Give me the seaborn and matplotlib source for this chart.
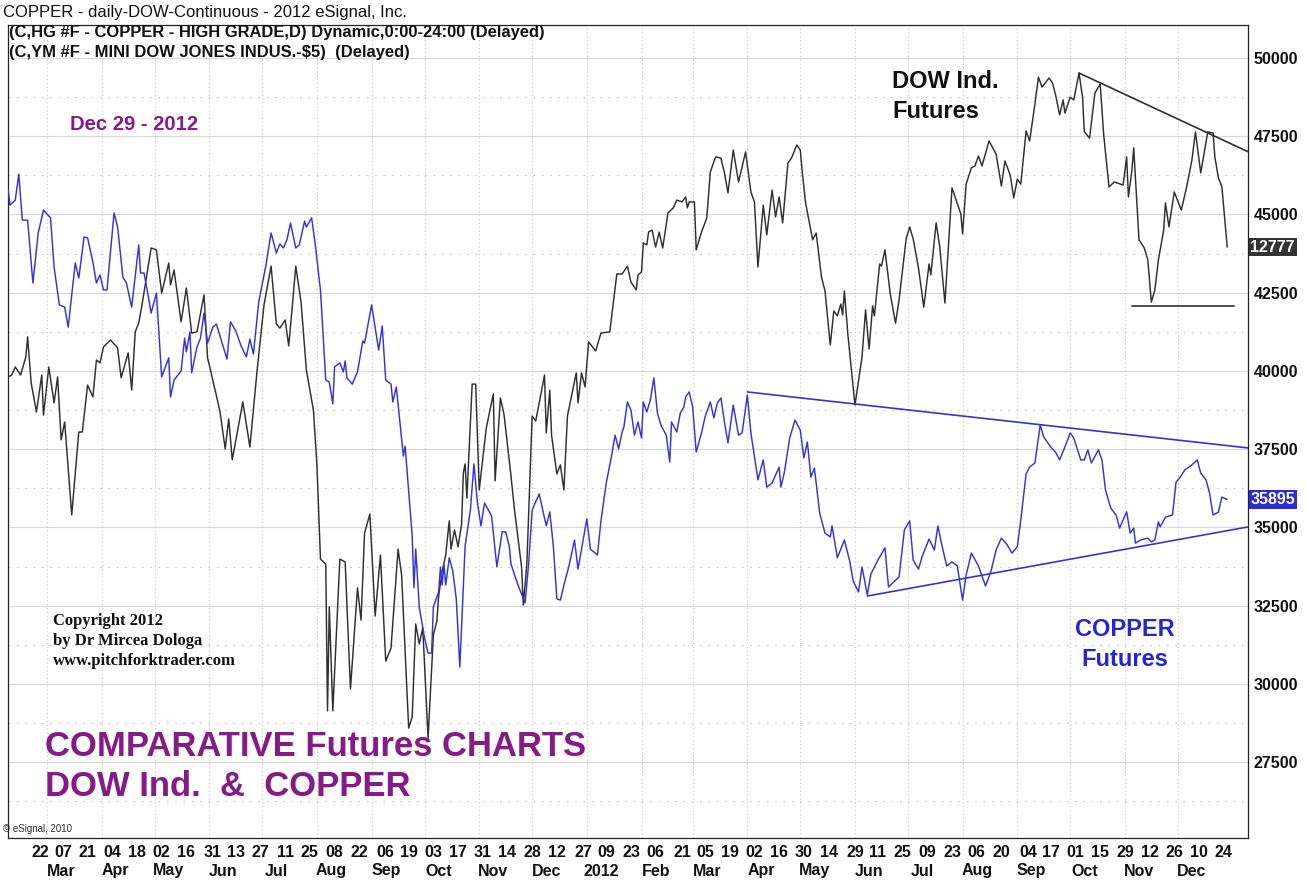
import matplotlib
matplotlib.use("Agg")
import matplotlib.pyplot as plt
import matplotlib.transforms as mtransforms
import matplotlib.dates as mdates
import seaborn as sns
import pandas as pd

# ---------------- data ----------------
copper_dates = [
    "2011-02-04", "2011-02-05", "2011-02-08", "2011-02-10", "2011-02-12", "2011-02-15", "2011-02-18", "2011-02-21",
    "2011-02-24", "2011-02-28", "2011-03-02", "2011-03-05", "2011-03-08", "2011-03-10", "2011-03-14", "2011-03-16",
    "2011-03-19", "2011-03-21", "2011-03-24", "2011-03-26", "2011-03-28", "2011-03-30", "2011-04-01", "2011-04-05",
    "2011-04-07", "2011-04-10", "2011-04-12", "2011-04-15", "2011-04-19", "2011-04-20", "2011-04-22", "2011-04-24",
    "2011-04-26", "2011-04-29", "2011-05-02", "2011-05-06", "2011-05-07", "2011-05-09", "2011-05-13", "2011-05-15",
    "2011-05-16", "2011-05-18", "2011-05-19", "2011-05-22", "2011-05-24", "2011-05-26", "2011-05-28", "2011-05-31",
    "2011-06-02", "2011-06-08", "2011-06-10", "2011-06-13", "2011-06-16", "2011-06-19", "2011-06-21", "2011-06-23",
    "2011-06-26", "2011-06-29", "2011-06-30", "2011-07-03", "2011-07-06", "2011-07-08", "2011-07-10", "2011-07-12",
    "2011-07-14", "2011-07-17", "2011-07-19", "2011-07-22", "2011-07-23", "2011-07-26", "2011-07-28", "2011-07-31",
    "2011-08-03", "2011-08-05", "2011-08-07", "2011-08-08", "2011-08-11", "2011-08-13", "2011-08-14", "2011-08-15",
    "2011-08-18", "2011-08-21", "2011-08-24", "2011-08-25", "2011-08-29", "2011-09-02", "2011-09-04", "2011-09-06",
    "2011-09-09", "2011-09-10", "2011-09-12", "2011-09-16", "2011-09-17", "2011-09-21", "2011-09-22", "2011-09-23",
    "2011-09-25", "2011-09-28", "2011-09-30", "2011-10-02", "2011-10-03", "2011-10-06", "2011-10-07", "2011-10-08",
    "2011-10-09", "2011-10-10", "2011-10-12", "2011-10-14", "2011-10-16", "2011-10-18", "2011-10-21", "2011-10-24",
    "2011-10-26", "2011-10-28", "2011-10-30", "2011-11-01", "2011-11-05", "2011-11-08", "2011-11-11", "2011-11-13",
    "2011-11-15", "2011-11-16", "2011-11-20", "2011-11-24", "2011-11-26", "2011-11-28", "2011-12-02", "2011-12-06",
    "2011-12-08", "2011-12-10", "2011-12-12", "2011-12-14", "2011-12-16", "2011-12-19", "2011-12-22", "2011-12-24",
    "2011-12-29", "2011-12-31", "2012-01-04", "2012-01-06", "2012-01-09", "2012-01-12", "2012-01-14", "2012-01-16",
    "2012-01-18", "2012-01-19", "2012-01-21", "2012-01-23", "2012-01-25", "2012-01-27", "2012-01-29", "2012-01-30",
    "2012-02-01", "2012-02-03", "2012-02-05", "2012-02-07", "2012-02-09", "2012-02-12", "2012-02-14", "2012-02-15",
    "2012-02-18", "2012-02-20", "2012-02-22", "2012-02-23", "2012-02-25", "2012-02-27", "2012-02-29", "2012-03-03",
    "2012-03-05", "2012-03-08", "2012-03-10", "2012-03-12", "2012-03-14", "2012-03-16", "2012-03-18", "2012-03-21",
    "2012-03-24", "2012-03-26", "2012-03-29", "2012-03-31", "2012-04-04", "2012-04-07", "2012-04-09", "2012-04-12",
    "2012-04-16", "2012-04-17", "2012-04-19", "2012-04-22", "2012-04-25", "2012-04-28", "2012-04-30", "2012-05-02",
    "2012-05-04", "2012-05-06", "2012-05-09", "2012-05-12", "2012-05-15", "2012-05-16", "2012-05-19", "2012-05-23",
    "2012-05-26", "2012-05-28", "2012-05-31", "2012-06-02", "2012-06-05", "2012-06-07", "2012-06-11", "2012-06-15",
    "2012-06-17", "2012-06-23", "2012-06-26", "2012-06-29", "2012-07-01", "2012-07-04", "2012-07-06", "2012-07-10",
    "2012-07-13", "2012-07-15", "2012-07-17", "2012-07-20", "2012-07-23", "2012-07-26", "2012-07-29", "2012-07-31",
    "2012-08-03", "2012-08-07", "2012-08-11", "2012-08-14", "2012-08-17", "2012-08-20", "2012-08-23", "2012-08-26",
    "2012-08-29", "2012-08-31", "2012-09-03", "2012-09-05", "2012-09-08", "2012-09-11", "2012-09-13", "2012-09-17",
    "2012-09-20", "2012-09-22", "2012-09-25", "2012-09-28", "2012-09-30", "2012-10-04", "2012-10-06", "2012-10-08",
    "2012-10-10", "2012-10-14", "2012-10-16", "2012-10-18", "2012-10-21", "2012-10-24", "2012-10-26", "2012-10-28",
    "2012-10-30", "2012-11-01", "2012-11-03", "2012-11-04", "2012-11-07", "2012-11-11", "2012-11-13", "2012-11-15",
    "2012-11-17", "2012-11-18", "2012-11-21", "2012-11-25", "2012-11-27", "2012-11-29", "2012-12-02", "2012-12-06",
    "2012-12-09", "2012-12-11", "2012-12-14", "2012-12-16", "2012-12-18", "2012-12-21", "2012-12-23", "2012-12-26",
]
copper_values = [
    45780, 45300, 45460, 46290, 44820, 44820, 42810, 44410,
    45140, 44890, 43320, 42110, 42040, 41400, 43450, 42970,
    44280, 44250, 43480, 42810, 43070, 42590, 42590, 45050,
    44600, 43000, 42810, 42040, 44030, 43130, 43130, 42520,
    41850, 42490, 39810, 40420, 39170, 39710, 40000, 41050,
    40610, 41250, 39940, 40770, 41050, 41850, 40890, 41400,
    41500, 40380, 41570, 41280, 40800, 40450, 41020, 40540,
    42200, 43070, 43350, 44410, 43770, 44060, 43930, 44190,
    44730, 43930, 44030, 44790, 44600, 44890, 44060, 42590,
    39710, 39650, 38950, 40130, 40260, 39970, 40320, 39780,
    39580, 39970, 40960, 40890, 42110, 40670, 41440, 39710,
    39580, 39010, 39490, 37280, 37600, 34730, 33070, 34310,
    32460, 31470, 30990, 30990, 32460, 32940, 33740, 33160,
    33830, 33160, 34030, 33610, 32720, 30540, 34410, 35560,
    37030, 35780, 35050, 35780, 35370, 33740, 34860, 34860,
    34410, 33830, 33160, 32590, 33830, 35560, 36070, 35050,
    35500, 34410, 32720, 32680, 33160, 33800, 34600, 33670,
    35270, 34310, 34120, 35210, 36420, 37280, 37950, 37510,
    38050, 38210, 39010, 38750, 37950, 38370, 37860, 39010,
    38690, 39070, 39780, 38660, 38270, 37950, 37090, 38370,
    38050, 38660, 38850, 39170, 39330, 38850, 37410, 38020,
    38530, 39010, 38500, 38980, 39140, 38370, 37700, 38910,
    37950, 38020, 39230, 38020, 36520, 37160, 36290, 36420,
    36930, 36290, 36770, 37860, 38430, 38110, 37220, 37730,
    36610, 36900, 35460, 34820, 34700, 35050, 34030, 34600,
    33930, 33290, 32940, 33740, 32840, 33510, 33960, 34350,
    33100, 33420, 34920, 35210, 33960, 33670, 34060, 34630,
    34280, 35050, 34500, 33770, 33900, 33770, 32680, 33480,
    34180, 33770, 33130, 33580, 34280, 34660, 34470, 34180,
    34380, 35240, 36710, 36930, 37060, 38270, 37890, 37570,
    37380, 37160, 37570, 38020, 37860, 37160, 37160, 37480,
    37060, 37480, 37160, 36200, 35620, 35400, 34980, 35240,
    35500, 34820, 34980, 34500, 34600, 34660, 34540, 34600,
    35180, 35020, 35330, 35400, 36450, 36580, 36840, 37000,
    37160, 36740, 36520, 36100, 35400, 35490, 35970, 35895,
]

dow_dates = [
    "2011-02-04", "2011-02-06", "2011-02-08", "2011-02-11", "2011-02-14", "2011-02-15", "2011-02-17", "2011-02-20",
    "2011-02-23", "2011-02-24", "2011-02-27", "2011-03-02", "2011-03-04", "2011-03-06", "2011-03-08", "2011-03-12",
    "2011-03-16", "2011-03-18", "2011-03-21", "2011-03-24", "2011-03-26", "2011-03-28", "2011-03-30", "2011-04-03",
    "2011-04-07", "2011-04-09", "2011-04-13", "2011-04-15", "2011-04-17", "2011-04-19", "2011-04-21", "2011-04-26",
    "2011-04-29", "2011-05-02", "2011-05-06", "2011-05-07", "2011-05-09", "2011-05-13", "2011-05-16", "2011-05-19",
    "2011-05-22", "2011-05-26", "2011-05-28", "2011-05-29", "2011-06-04", "2011-06-07", "2011-06-09", "2011-06-11",
    "2011-06-17", "2011-06-21", "2011-06-25", "2011-06-29", "2011-07-03", "2011-07-06", "2011-07-08", "2011-07-11",
    "2011-07-13", "2011-07-15", "2011-07-17", "2011-07-20", "2011-07-23", "2011-07-27", "2011-07-29", "2011-07-31",
    "2011-08-03", "2011-08-04", "2011-08-05", "2011-08-07", "2011-08-11", "2011-08-14", "2011-08-17", "2011-08-21",
    "2011-08-23", "2011-08-25", "2011-08-28", "2011-08-31", "2011-09-03", "2011-09-06", "2011-09-09", "2011-09-13",
    "2011-09-15", "2011-09-19", "2011-09-21", "2011-09-23", "2011-09-25", "2011-09-27", "2011-09-30", "2011-10-03",
    "2011-10-05", "2011-10-06", "2011-10-08", "2011-10-10", "2011-10-12", "2011-10-13", "2011-10-15", "2011-10-17",
    "2011-10-19", "2011-10-20", "2011-10-21", "2011-10-22", "2011-10-25", "2011-10-27", "2011-10-29", "2011-11-02",
    "2011-11-06", "2011-11-07", "2011-11-10", "2011-11-12", "2011-11-16", "2011-11-18", "2011-11-22", "2011-11-23",
    "2011-11-25", "2011-11-28", "2011-11-30", "2011-12-02", "2011-12-05", "2011-12-06", "2011-12-08", "2011-12-09",
    "2011-12-12", "2011-12-14", "2011-12-16", "2011-12-18", "2011-12-23", "2011-12-24", "2011-12-26", "2011-12-28",
    "2011-12-30", "2012-01-03", "2012-01-06", "2012-01-11", "2012-01-15", "2012-01-18", "2012-01-21", "2012-01-23",
    "2012-01-26", "2012-01-27", "2012-01-29", "2012-01-30", "2012-02-01", "2012-02-02", "2012-02-04", "2012-02-06",
    "2012-02-08", "2012-02-10", "2012-02-13", "2012-02-16", "2012-02-18", "2012-02-21", "2012-02-23", "2012-02-24",
    "2012-02-25", "2012-02-28", "2012-02-29", "2012-03-03", "2012-03-06", "2012-03-08", "2012-03-11", "2012-03-14",
    "2012-03-16", "2012-03-18", "2012-03-21", "2012-03-24", "2012-03-28", "2012-03-31", "2012-04-02", "2012-04-04",
    "2012-04-07", "2012-04-09", "2012-04-12", "2012-04-14", "2012-04-16", "2012-04-18", "2012-04-21", "2012-04-23",
    "2012-04-26", "2012-04-28", "2012-04-29", "2012-05-01", "2012-05-05", "2012-05-07", "2012-05-10", "2012-05-12",
    "2012-05-15", "2012-05-17", "2012-05-19", "2012-05-21", "2012-05-22", "2012-05-23", "2012-05-25", "2012-05-29",
    "2012-06-02", "2012-06-04", "2012-06-06", "2012-06-08", "2012-06-09", "2012-06-12", "2012-06-13", "2012-06-15",
    "2012-06-18", "2012-06-21", "2012-06-23", "2012-06-27", "2012-06-29", "2012-07-01", "2012-07-04", "2012-07-07",
    "2012-07-10", "2012-07-11", "2012-07-14", "2012-07-16", "2012-07-19", "2012-07-23", "2012-07-28", "2012-07-29",
    "2012-07-31", "2012-08-03", "2012-08-05", "2012-08-07", "2012-08-09", "2012-08-13", "2012-08-17", "2012-08-20",
    "2012-08-22", "2012-08-25", "2012-08-27", "2012-08-29", "2012-08-31", "2012-09-03", "2012-09-05", "2012-09-08",
    "2012-09-10", "2012-09-12", "2012-09-16", "2012-09-18", "2012-09-20", "2012-09-22", "2012-09-24", "2012-09-25",
    "2012-09-28", "2012-09-30", "2012-10-03", "2012-10-05", "2012-10-06", "2012-10-09", "2012-10-12", "2012-10-15",
    "2012-10-17", "2012-10-20", "2012-10-23", "2012-10-28", "2012-10-30", "2012-10-31", "2012-11-02", "2012-11-03",
    "2012-11-06", "2012-11-09", "2012-11-11", "2012-11-13", "2012-11-15", "2012-11-17", "2012-11-20", "2012-11-21",
    "2012-11-23", "2012-11-26", "2012-11-30", "2012-12-03", "2012-12-06", "2012-12-08", "2012-12-11", "2012-12-15",
    "2012-12-18", "2012-12-19", "2012-12-21", "2012-12-23", "2012-12-24", "2012-12-26",
]
dow_values = [
    39810, 39870, 40130, 39870, 40450, 41090, 39620, 38690,
    39870, 38590, 40130, 38980, 39810, 37800, 38370, 35400,
    38050, 38050, 39550, 39170, 40350, 40260, 40770, 40990,
    40740, 39780, 40580, 39390, 41250, 41530, 42170, 43930,
    43870, 42490, 43450, 42750, 43230, 41570, 42650, 41210,
    41250, 42430, 40420, 40190, 38720, 37510, 38470, 37160,
    39010, 37570, 39970, 42110, 43350, 41500, 41370, 41630,
    40800, 42040, 43350, 42200, 40030, 38750, 37000, 33990,
    33830, 29140, 32460, 29140, 33990, 33900, 29840, 33070,
    32040, 34820, 35430, 32170, 34120, 30730, 31150, 34310,
    33480, 28590, 28950, 31920, 31280, 31790, 28270, 31560,
    32010, 32810, 33610, 34120, 35210, 34310, 34920, 34380,
    35110, 36740, 37030, 35940, 39580, 39580, 36200, 38180,
    39270, 36490, 39140, 38630, 36650, 35560, 33740, 32520,
    33830, 38560, 38400, 38980, 39870, 38020, 39390, 37950,
    36710, 37000, 36200, 38560, 39940, 38980, 39940, 39490,
    40930, 40640, 41210, 41250, 43100, 43100, 43350, 42840,
    42590, 43070, 43160, 44090, 44030, 44440, 44500, 43960,
    44440, 43930, 45050, 45210, 45460, 45400, 45560, 45210,
    45400, 45400, 43870, 44440, 44890, 46360, 46840, 46800,
    46330, 45690, 47060, 46040, 47000, 45720, 45400, 43320,
    45300, 44350, 45780, 44920, 45560, 44730, 46650, 46800,
    47220, 47060, 46420, 45370, 44190, 44410, 43000, 42560,
    40830, 41920, 41760, 42140, 41790, 42560, 41150, 38910,
    40450, 41950, 40700, 42080, 41760, 43420, 43350, 43870,
    42460, 41530, 42270, 44220, 44600, 44220, 43290, 42040,
    43420, 43070, 44730, 43990, 42170, 45850, 45020, 44380,
    45970, 46490, 46550, 46870, 46550, 47350, 46930, 45910,
    46710, 46260, 45530, 46130, 45970, 47670, 47350, 48530,
    49390, 49070, 49360, 49200, 48750, 48180, 48660, 48240,
    48750, 48660, 49520, 48750, 47640, 47440, 48880, 49170,
    47540, 45880, 46040, 45940, 46840, 45560, 46420, 47130,
    44190, 43930, 43550, 42200, 42590, 43550, 44500, 45370,
    44600, 45720, 45140, 45880, 46740, 47640, 46330, 47640,
    47600, 46840, 46170, 45880, 45240, 43960,
]

# hand-drawn trend lines (start / end points)
dow_resistance_dates = ["2012-10-03", "2013-01-07"]
dow_resistance_values = [49520, 47000]
dow_support_dates = ["2012-11-02", "2012-12-30"]
dow_support_values = [42080, 42080]
copper_upper_dates = ["2012-03-29", "2013-01-07"]
copper_upper_values = [39330, 37540]
copper_lower_dates = ["2012-06-05", "2013-01-07"]
copper_lower_values = [32810, 35020]

tick_dates = [
    "2011-02-22", "2011-03-07", "2011-03-21", "2011-04-04", "2011-04-18", "2011-05-02", "2011-05-16", "2011-05-31",
    "2011-06-13", "2011-06-27", "2011-07-11", "2011-07-25", "2011-08-08", "2011-08-22", "2011-09-06", "2011-09-19",
    "2011-10-03", "2011-10-17", "2011-10-31", "2011-11-14", "2011-11-28", "2011-12-12", "2011-12-27", "2012-01-09",
    "2012-01-23", "2012-02-06", "2012-02-21", "2012-03-05", "2012-03-19", "2012-04-02", "2012-04-16", "2012-04-30",
    "2012-05-14", "2012-05-29", "2012-06-11", "2012-06-25", "2012-07-09", "2012-07-23", "2012-08-06", "2012-08-20",
    "2012-09-04", "2012-09-17", "2012-10-01", "2012-10-15", "2012-10-29", "2012-11-12", "2012-11-26", "2012-12-10",
    "2012-12-24",
]
tick_labels = [d[-2:] for d in tick_dates]
month_label_dates = [
    "2011-03-06", "2011-04-06", "2011-05-06", "2011-06-06", "2011-07-06", "2011-08-06", "2011-09-06", "2011-10-06",
    "2011-11-06", "2011-12-06", "2012-01-06", "2012-02-06", "2012-03-06", "2012-04-06", "2012-05-06", "2012-06-06",
    "2012-07-06", "2012-08-06", "2012-09-06", "2012-10-06", "2012-11-06", "2012-12-06",
]
month_labels = ["Mar", "Apr", "May", "Jun", "Jul", "Aug", "Sep", "Oct", "Nov", "Dec", "2012",
                "Feb", "Mar", "Apr", "May", "Jun", "Jul", "Aug", "Sep", "Oct", "Nov", "Dec"]
y_ticks = [27500, 30000, 32500, 35000, 37500, 40000, 42500, 45000, 47500, 50000]
dow_last_label = "12777"
copper_last_label = "35895"

# ---------------- styling ----------------
W, H = 1307, 881
BLUE = "#3434d6"
DARK = "#2f2f2f"
PURPLE = "#861a86"

sns.set_theme(style="white")
plt.rcParams["font.family"] = ["Liberation Sans", "DejaVu Sans"]

fig = plt.figure(figsize=(W / 100, H / 100), dpi=100)
ax = fig.add_axes([8 / W, 43 / H, 1240 / W, 813 / H])

dow_df = pd.DataFrame({"date": pd.to_datetime(dow_dates), "value": dow_values})
cu_df = pd.DataFrame({"date": pd.to_datetime(copper_dates), "value": copper_values})

# grid: solid price levels, dotted half levels, dotted month separators
month_sep = pd.date_range("2011-03-01", "2012-12-01", freq="MS") - pd.Timedelta(days=3)
for v in y_ticks:
    ax.axhline(v, color="#d9d9d9", lw=0.9, zorder=0)
    ax.axhline(v - 1250, color="#c4c4c4", lw=0.8, ls=(0, (1.5, 6)), zorder=0)
for d in month_sep:
    ax.axvline(d, color="#c4c4c4", lw=0.8, ls=(0, (1, 2.5)), zorder=0)

sns.lineplot(data=dow_df, x="date", y="value", ax=ax, color=DARK, lw=1.05,
             sort=False, estimator=None, zorder=3)
sns.lineplot(data=cu_df, x="date", y="value", ax=ax, color=BLUE, lw=1.05,
             sort=False, estimator=None, zorder=4)

for ds, vs, col in [(dow_resistance_dates, dow_resistance_values, DARK),
                    (dow_support_dates, dow_support_values, DARK),
                    (copper_upper_dates, copper_upper_values, BLUE),
                    (copper_lower_dates, copper_lower_values, BLUE)]:
    sns.lineplot(x=pd.to_datetime(ds), y=vs, ax=ax, color=col, lw=1.2,
                 sort=False, estimator=None, zorder=5)

ax.set_xlim(pd.Timestamp("2011-02-03 21:00"), pd.Timestamp("2013-01-06 19:00"))
ax.set_ylim(25079, 51054)
ax.set_xlabel("")
ax.set_ylabel("")

# x axis: day numbers (labels sit just right of their tick marks), month names below
ax.set_xticks(pd.to_datetime(tick_dates))
ax.set_xticklabels(tick_labels)
ax.tick_params(axis="x", which="major", length=0, pad=5, labelsize=11.5, labelcolor="#111111")
for lab in ax.get_xticklabels():
    lab.set_fontweight("bold")
mark_pos = list(pd.to_datetime(tick_dates) - pd.Timedelta(days=5)) + list(month_sep)
ax.set_xticks(mark_pos, minor=True)
ax.tick_params(axis="x", which="minor", direction="inout", length=6, width=0.8, color="#444444")
xtrans = mtransforms.blended_transform_factory(ax.transData, ax.transAxes)
for d, lbl in zip(pd.to_datetime(month_label_dates), month_labels):
    ax.text(mdates.date2num(d), -33 / 813, lbl, transform=xtrans, ha="center", va="center",
            fontsize=11.5, fontweight="bold", color="#111111", clip_on=False)

# y axis on the right
ax.yaxis.tick_right()
ax.set_yticks(y_ticks)
ax.set_yticklabels([str(v) for v in y_ticks])
ax.tick_params(axis="y", length=0, pad=4, labelsize=11.5, labelcolor="#111111")
for lab in ax.get_yticklabels():
    lab.set_fontweight("bold")

for sp in ax.spines.values():
    sp.set_visible(True)
    sp.set_color("#222222")
    sp.set_linewidth(0.9)

# last-value tags on the price axis
trans = mtransforms.blended_transform_factory(ax.transAxes, ax.transData)
ax.text(1.002, dow_values[-1], dow_last_label, transform=trans, ha="left", va="center",
        color="white", fontsize=11.5, fontweight="bold", clip_on=False, zorder=10,
        bbox=dict(boxstyle="square,pad=0.12", fc="#333333", ec="none"))
ax.text(1.002, copper_values[-1], copper_last_label, transform=trans, ha="left", va="center",
        color="white", fontsize=11.5, fontweight="bold", clip_on=False, zorder=10,
        bbox=dict(boxstyle="square,pad=0.12", fc="#2b2bd8", ec="none"))


def ftext(x, y, s, **kw):
    fig.text(x / W, 1 - y / H, s, va="center", **kw)


ftext(3, 12, "COPPER - daily-DOW-Continuous - 2012 eSignal, Inc.", fontsize=12, color="#111111")
ftext(9, 33, "(C,HG #F - COPPER - HIGH GRADE,D) Dynamic,0:00-24:00 (Delayed)",
      fontsize=11.9, fontweight="bold", color="#111111")
ftext(9, 53, "(C,YM #F - MINI DOW JONES INDUS.-$5)  (Delayed)",
      fontsize=11.9, fontweight="bold", color="#111111")
ftext(70, 125, "Dec 29 - 2012", fontsize=14.6, fontweight="bold", color=PURPLE)
ftext(892, 82, "DOW Ind.", fontsize=17, fontweight="bold", color="#111111")
ftext(892, 111, "Futures", fontsize=17, fontweight="bold", color="#111111")
ftext(1125, 630, "COPPER", fontsize=17, fontweight="bold", color="#2424dc", ha="center")
ftext(1125, 660, "Futures", fontsize=17, fontweight="bold", color="#2424dc", ha="center")
for i, line in enumerate(["Copyright 2012", "by Dr Mircea Dologa", "www.pitchforktrader.com"]):
    ftext(53, 621 + 20 * i, line, fontsize=12, fontweight="bold", color="#111111",
          family=["Liberation Serif", "DejaVu Serif"])
ftext(45, 746, "COMPARATIVE Futures CHARTS", fontsize=24.9, fontweight="bold", color=PURPLE)
ftext(45, 786, "DOW Ind.  &  COPPER", fontsize=24.9, fontweight="bold", color=PURPLE)
ftext(3, 829, "\u00a9 eSignal, 2010", fontsize=7, color="#333333")

fig.savefig("out.png", dpi=100)
